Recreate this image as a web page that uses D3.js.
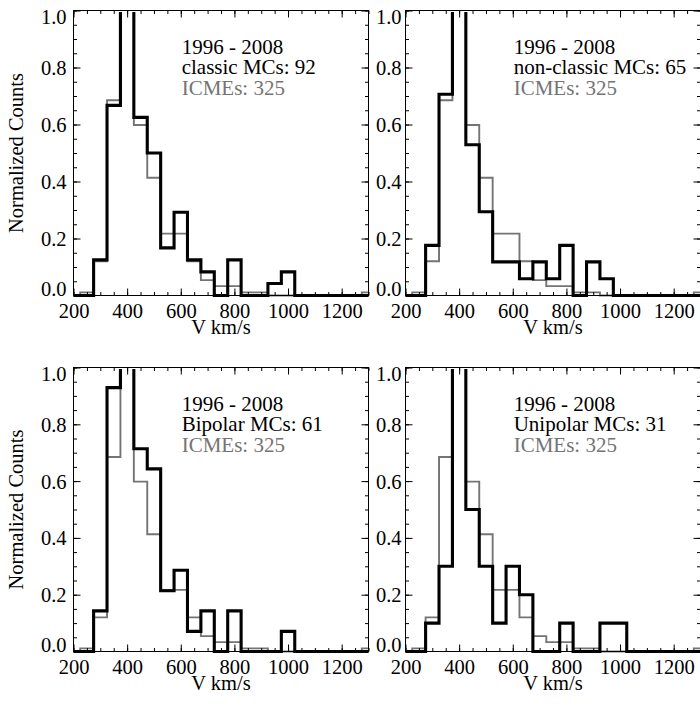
<!DOCTYPE html>
<html><head><meta charset="utf-8">
<script src="https://cdn.jsdelivr.net/npm/d3@7/dist/d3.min.js"></script>
<style>
body{margin:0;background:#fff}
svg{display:block}
svg text{font-family:"Liberation Serif","Times New Roman",Times,"DejaVu Serif",serif !important}
</style>
</head><body>
<svg id="chart" width="700" height="707"></svg>
<script>
// ---- data ----
const velocityBins = [200,250,300,350,400,450,500,550,600,650,700,750,800,850,900,950,1000,1050,1100,1150,1200,1250,1300];
const icmeValues      = [0,0.011,0.12,0.685,1,0.598,0.413,0.217,0.217,0.12,0.054,0.033,0.033,0.011,0.011,0,0,0,0,0,0,0,0.011];
const classicValues   = [0,0,0.125,0.667,1,0.625,0.5,0.167,0.292,0.125,0.083,0,0.125,0,0,0.042,0.083,0,0,0,0,0,0];
const nonClassicValues= [0,0,0.176,0.706,1,0.529,0.294,0.118,0.118,0.059,0.118,0.059,0.176,0,0.118,0.059,0,0,0,0,0,0,0];
const bipolarValues   = [0,0,0.143,0.929,1,0.714,0.643,0.214,0.286,0.071,0.143,0,0.143,0,0,0,0.071,0,0,0,0,0,0];
const unipolarValues  = [0,0,0.1,0.3,1,0.5,0.3,0.1,0.3,0.2,0,0,0.1,0,0,0.1,0.1,0,0,0,0,0,0];
const panelLabels = ["classic MCs: 92","non-classic MCs: 65","Bipolar MCs: 61","Unipolar MCs: 31"];
const yearLabel = "1996 - 2008";
const icmeLabel = "ICMEs: 325";
const xTickValues = [200,400,600,800,1000,1200];
const xMinorValues = d3.range(200,1301,50);
const yTickValues = [0,0.2,0.4,0.6,0.8,1.0];
const yMinorValues = d3.range(0,1.0001,0.05);
const xTitle = "V km/s";
const yTitle = "Normalized Counts";

// ---- layout ----
const panels = [
  {x0:73.5, x1:368.5, y0:10.5, y1:295.5, series:classicValues,    label:panelLabels[0], yTitle:true,  gap:7},
  {x0:405.5,x1:700.5, y0:10.5, y1:295.5, series:nonClassicValues, label:panelLabels[1], yTitle:false, gap:4},
  {x0:73.5, x1:368.5, y0:367.5,y1:651.5, series:bipolarValues,    label:panelLabels[2], yTitle:true,  gap:7},
  {x0:405.5,x1:700.5, y0:367.5,y1:651.5, series:unipolarValues,   label:panelLabels[3], yTitle:false, gap:4}
];
const FONT = "Liberation Serif, Times New Roman, DejaVu Serif, serif";
const FS = 20.5;
const GREY = "#747474";
const svg = d3.select("#chart");

function stepPoints(vals){
  const pts = [];
  velocityBins.forEach((c,i)=>{
    const l = Math.max(200, c-25), r = Math.min(1300, c+25);
    pts.push([l, vals[i]]); pts.push([r, vals[i]]);
  });
  return pts;
}

panels.forEach((p,pi)=>{
  const w = p.x1-p.x0, h = p.y1-p.y0;
  const x = d3.scaleLinear().domain([200,1300]).range([0,w]);
  const y = d3.scaleLinear().domain([0,1]).range([h,0]);
  const g = svg.append("g").attr("transform",`translate(${p.x0},${p.y0})`);

  const clipId = "clip"+pi;
  g.append("clipPath").attr("id",clipId).append("rect")
    .attr("x",0).attr("y",1.5).attr("width",w).attr("height",h+1.5);

  const line = d3.line().x(d=>x(d[0])).y(d=>y(d[1]));
  const data = g.append("g").attr("clip-path",`url(#${clipId})`);
  data.append("path").attr("d",line(stepPoints(icmeValues)))
    .attr("fill","none").attr("stroke",GREY).attr("stroke-width",1.9);
  data.append("path").attr("d",line(stepPoints(p.series)))
    .attr("fill","none").attr("stroke","#000").attr("stroke-width",3.1);

  const styleAxis = sel => {
    sel.attr("font-family",FONT);
    sel.select(".domain").remove();
    sel.selectAll("line").attr("stroke","#000").attr("stroke-width",1);
  };
  // minor ticks (inward, all four sides)
  g.append("g").attr("transform",`translate(0,${h})`)
    .call(d3.axisBottom(x).tickValues(xMinorValues).tickSize(-3.5).tickFormat("")).call(styleAxis);
  g.append("g").call(d3.axisTop(x).tickValues(xMinorValues).tickSize(-3.5).tickFormat("")).call(styleAxis);
  g.append("g").call(d3.axisLeft(y).tickValues(yMinorValues).tickSize(-3.5).tickFormat("")).call(styleAxis);
  g.append("g").attr("transform",`translate(${w},0)`)
    .call(d3.axisRight(y).tickValues(yMinorValues).tickSize(-3.5).tickFormat("")).call(styleAxis);
  // major ticks
  const xb = g.append("g").attr("transform",`translate(0,${h})`)
    .call(d3.axisBottom(x).tickValues(xTickValues).tickSize(-7).tickFormat(d3.format("d"))).call(styleAxis);
  xb.selectAll("text").attr("y",22).attr("dy",null).attr("font-size",FS).attr("fill","#000").attr("font-family",FONT);
  g.append("g").call(d3.axisTop(x).tickValues(xTickValues).tickSize(-7).tickFormat("")).call(styleAxis);
  const yl = g.append("g").call(d3.axisLeft(y).tickValues(yTickValues).tickSize(-7).tickFormat(d3.format(".1f"))).call(styleAxis);
  yl.selectAll("text").attr("x",-p.gap).attr("dy","0.34em").attr("font-size",FS).attr("fill","#000").attr("font-family",FONT)
    .attr("transform",d=> d===0 ? "translate(0,-6.5)" : (d===1 ? "translate(0,6.5)" : null));
  g.append("g").attr("transform",`translate(${w},0)`)
    .call(d3.axisRight(y).tickValues(yTickValues).tickSize(-7).tickFormat("")).call(styleAxis);

  // box
  g.append("rect").attr("x",0).attr("y",0).attr("width",w).attr("height",h)
    .attr("fill","none").attr("stroke","#000").attr("stroke-width",1);

  // annotation
  const tx = 108.2;
  const ann = (yy,txt,col)=>g.append("text").attr("x",tx).attr("y",yy).attr("font-size",21)
    .attr("font-family",FONT).attr("fill",col).text(txt);
  ann(43,yearLabel,"#000");
  ann(63.5,p.label,"#000");
  ann(84.5,icmeLabel,GREY);

  // titles
  g.append("text").attr("x",w/2).attr("y",h+38.5).attr("text-anchor","middle")
    .attr("font-size",FS).attr("font-family",FONT).attr("fill","#000").text(xTitle);
  if(p.yTitle){
    svg.append("text").attr("transform",`translate(23,${p.y0+h/2}) rotate(-90)`)
      .attr("text-anchor","middle").attr("font-size",FS).attr("font-family",FONT).attr("fill","#000").text(yTitle);
  }
});
</script>
</body></html>
